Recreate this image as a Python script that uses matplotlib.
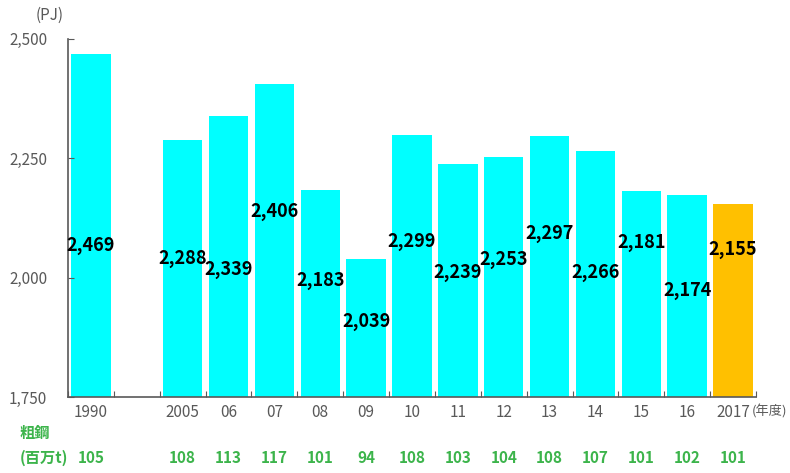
import matplotlib.pyplot as plt

plt.rcParams['font.family'] = ['Noto Sans CJK JP', 'DejaVu Sans']

# 年度別のエネルギー消費量 (PJ) と粗鋼生産量 (百万t)
years = ['1990', '', '2005', '06', '07', '08', '09', '10', '11', '12', '13', '14', '15', '16', '2017']
energy = [2469, None, 2288, 2339, 2406, 2183, 2039, 2299, 2239, 2253, 2297, 2266, 2181, 2174, 2155]
steel = [105, None, 108, 113, 117, 101, 94, 108, 103, 104, 108, 107, 101, 102, 101]
# 値ラベルの縦位置
label_y = [2068, None, 2041, 2018, 2139, 1995, 1909, 2076, 2011, 2037, 2093, 2011, 2074, 1974, 2058]

fig = plt.figure(figsize=(7.9, 4.73), dpi=100)
ax = fig.add_axes([0.086, 0.1607, 0.871, 0.757])

gray = '#595959'
green = '#3cb44b'

for i, v in enumerate(energy):
    if v is None:
        continue
    color = '#FFC000' if i == len(energy) - 1 else '#00FFFF'
    ax.bar(i, v - 1750, bottom=1750, width=0.86, color=color)
    ax.text(i, label_y[i], f'{v:,}', ha='center', va='center',
            fontsize=13, fontweight='bold', color='black')

ax.set_xlim(-0.5, len(years) - 0.5)
ax.set_ylim(1750, 2500)
ax.set_yticks([1750, 2000, 2250, 2500])
ax.set_yticklabels(['1,750', '2,000', '2,250', '2,500'])
ax.tick_params(axis='y', direction='in', length=4, color=gray, labelcolor=gray,
               labelsize=11, pad=15)
ax.set_xticks([i - 0.5 for i in range(len(years) + 1)])
ax.set_xticklabels([])
ax.tick_params(axis='x', direction='in', length=4, color=gray)

for s in ['top', 'right']:
    ax.spines[s].set_visible(False)
for s in ['left', 'bottom']:
    ax.spines[s].set_color(gray)
    ax.spines[s].set_linewidth(1.2)

# 年度ラベル
for i, y in enumerate(years):
    ax.text(i, -0.042, y, transform=ax.get_xaxis_transform(), ha='center', va='center',
            fontsize=11, color=gray)
fig.text(0.996, 0.129, '(年度)', ha='right', va='center', fontsize=9.5, color=gray)
fig.text(0.063, 0.968, '(PJ)', ha='center', va='center', fontsize=11, color=gray)

# 粗鋼生産量
fig.text(0.025, 0.085, '粗鋼', ha='left', va='center', fontsize=11,
         fontweight='bold', color=green)
fig.text(0.025, 0.031, '(百万t)', ha='left', va='center', fontsize=11,
         fontweight='bold', color=green)
for i, s in enumerate(steel):
    if s is None:
        continue
    ax.text(i, -0.170, str(s), transform=ax.get_xaxis_transform(), ha='center',
            va='center', fontsize=11, fontweight='bold', color=green)

fig.savefig('out.png', dpi=100)
